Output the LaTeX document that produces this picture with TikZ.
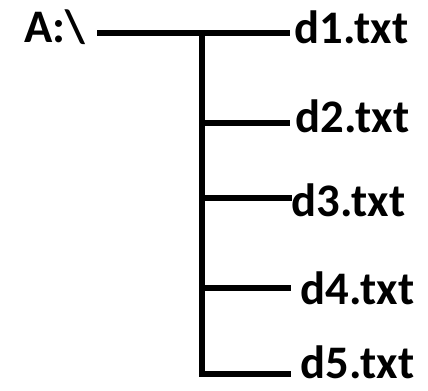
\documentclass[tikz,border=0pt]{standalone}
\usepackage{fontspec}
\setmainfont{Carlito}
\begin{document}
\begin{tikzpicture}[x=0.75pt,y=-0.75pt,line width=3.8pt,
  file/.style={anchor=west,inner sep=0pt,font=\bfseries\fontsize{35}{35}\selectfont},
  drive/.style={inner sep=0pt,font=\bfseries\fontsize{35}{35}\selectfont}]
\useasboundingbox (0,0) rectangle (428,390);

\node[drive] (root) at (55,27) {A:\textbackslash};
\node[file] (d1) at (292,27) {d1.txt};
\node[file] (d2) at (293,116) {d2.txt};
\node[file] (d3) at (289,200) {d3.txt};
\node[file] (d4) at (298,288) {d4.txt};
\node[file] (d5) at (298,362) {d5.txt};

\coordinate (s0) at (97,33);
\coordinate (top) at (202,33);
\coordinate (e1) at (290,33);
\coordinate (e2) at (290,123);
\coordinate (e3) at (292,198);
\coordinate (e4) at (291,288);
\coordinate (e5) at (291,374);

\draw (s0) -- (e1);
\draw (top) |- (e5);
\foreach \n in {2,3,4}
  \draw (top |- e\n) -- (e\n);
\end{tikzpicture}
\end{document}
